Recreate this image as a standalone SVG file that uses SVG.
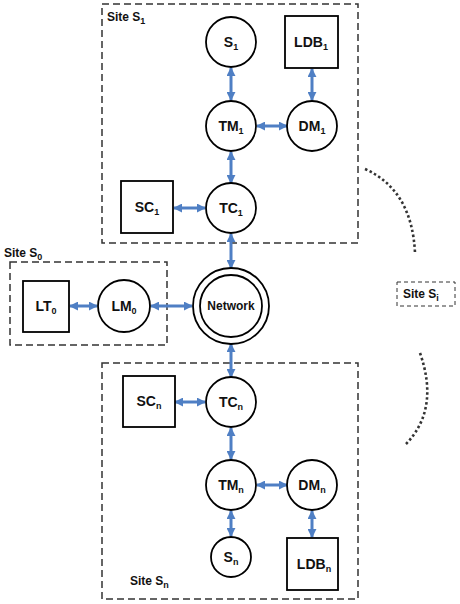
<svg xmlns="http://www.w3.org/2000/svg" width="460" height="604" viewBox="0 0 460 604">
<defs>
<marker id="ah" viewBox="0 0 10 10" refX="9" refY="5" markerWidth="9" markerHeight="9" markerUnits="userSpaceOnUse" orient="auto-start-reverse">
<path d="M0,0 L10,5 L0,10 z" fill="#4f7fc4"/>
</marker>
<style>
.site{fill:none;stroke:#333;stroke-width:1.5;stroke-dasharray:7,4}
.n{fill:#fff;stroke:#000;stroke-width:1.8}
.t{font-family:"Liberation Sans",Arial,sans-serif;font-weight:bold;font-size:14px;fill:#111;text-anchor:middle}
.s{font-size:9px}
.lab{font-family:"Liberation Sans",Arial,sans-serif;font-weight:bold;font-size:12px;fill:#111}
.c{stroke:#4f7fc4;stroke-width:3;fill:none;marker-start:url(#ah);marker-end:url(#ah)}
.dot{fill:none;stroke:#333;stroke-width:2.6;stroke-dasharray:2.5,2.5}
</style>
</defs>
<rect fill="#fff" width="460" height="604"/>
<g id="site1">
<rect class="site" x="102" y="4" width="256" height="239"/>
<text class="lab" x="107" y="21">Site S<tspan class="s" dy="3">1</tspan></text>
</g>
<g id="site0">
<rect class="site" x="10" y="262" width="157" height="83"/>
<text class="lab" x="4" y="257">Site S<tspan class="s" dy="3">0</tspan></text>
</g>
<g id="siten">
<rect class="site" x="102" y="363" width="256" height="236"/>
<text class="lab" x="130" y="585">Site S<tspan class="s" dy="3">n</tspan></text>
</g>
<g id="sitei">
<rect class="site" x="397" y="282" width="58" height="24" style="stroke-width:1;stroke-dasharray:4,3"/>
<text class="lab" x="403" y="298">Site S<tspan class="s" dy="3">i</tspan></text>
</g>
<g id="dots">
<path class="dot" d="M365,169 Q412,190 415,253"/>
<path class="dot" d="M420,353 Q440,410 405,445"/>
</g>
<g id="connectors">
<line class="c" x1="231" y1="68" x2="231" y2="100"/>
<line class="c" x1="312" y1="69" x2="312" y2="100"/>
<line class="c" x1="257" y1="126" x2="287" y2="126"/>
<line class="c" x1="231" y1="152" x2="231" y2="183"/>
<line class="c" x1="174" y1="208" x2="205" y2="208"/>
<line class="c" x1="231" y1="234" x2="231" y2="268"/>
<line class="c" x1="70" y1="306" x2="97" y2="306"/>
<line class="c" x1="151" y1="306" x2="192" y2="306"/>
<line class="c" x1="231" y1="344" x2="231" y2="377"/>
<line class="c" x1="175" y1="402" x2="205" y2="402"/>
<line class="c" x1="231" y1="428" x2="231" y2="459"/>
<line class="c" x1="257" y1="485" x2="287" y2="485"/>
<line class="c" x1="231" y1="511" x2="231" y2="536"/>
<line class="c" x1="312" y1="511" x2="312" y2="537"/>
</g>
<g id="S1"><circle class="n" cx="231" cy="42" r="25"/><text class="t" x="231" y="47">S<tspan class="s" dy="3">1</tspan></text></g>
<g id="LDB1"><rect class="n" x="285" y="16" width="53" height="52"/><text class="t" x="311" y="47">LDB<tspan class="s" dy="3">1</tspan></text></g>
<g id="TM1"><circle class="n" cx="231" cy="126" r="25"/><text class="t" x="231" y="131">TM<tspan class="s" dy="3">1</tspan></text></g>
<g id="DM1"><circle class="n" cx="312" cy="126" r="25"/><text class="t" x="312" y="131">DM<tspan class="s" dy="3">1</tspan></text></g>
<g id="SC1"><rect class="n" x="121" y="181" width="52" height="52"/><text class="t" x="147" y="212">SC<tspan class="s" dy="3">1</tspan></text></g>
<g id="TC1"><circle class="n" cx="231" cy="208" r="25"/><text class="t" x="231" y="213">TC<tspan class="s" dy="3">1</tspan></text></g>
<g id="LT0"><rect class="n" x="23" y="281" width="46" height="51"/><text class="t" x="46" y="311">LT<tspan class="s" dy="3">0</tspan></text></g>
<g id="LM0"><circle class="n" cx="124" cy="306" r="26"/><text class="t" x="124" y="311">LM<tspan class="s" dy="3">0</tspan></text></g>
<g id="Network"><circle class="n" cx="231" cy="306" r="38"/><circle class="n" cx="231" cy="306" r="31"/><text class="t" x="231" y="310" style="font-size:12px">Network</text></g>
<g id="SCn"><rect class="n" x="123" y="376" width="52" height="51"/><text class="t" x="149" y="406">SC<tspan class="s" dy="3">n</tspan></text></g>
<g id="TCn"><circle class="n" cx="231" cy="402" r="25"/><text class="t" x="231" y="407">TC<tspan class="s" dy="3">n</tspan></text></g>
<g id="TMn"><circle class="n" cx="231" cy="485" r="25"/><text class="t" x="231" y="490">TM<tspan class="s" dy="3">n</tspan></text></g>
<g id="DMn"><circle class="n" cx="312" cy="485" r="25"/><text class="t" x="312" y="490">DM<tspan class="s" dy="3">n</tspan></text></g>
<g id="Sn"><circle class="n" cx="231" cy="557" r="20"/><text class="t" x="231" y="562">S<tspan class="s" dy="3">n</tspan></text></g>
<g id="LDBn"><rect class="n" x="287" y="538" width="51" height="52"/><text class="t" x="314" y="569">LDB<tspan class="s" dy="3">n</tspan></text></g>
</svg>
